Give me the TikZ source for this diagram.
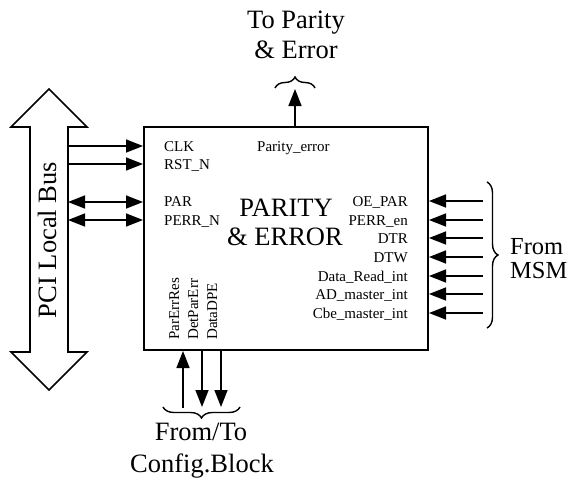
\documentclass[tikz,border=0pt]{standalone}
\usepackage{fontspec}
\setmainfont{Liberation Serif}
\usetikzlibrary{arrows.meta,decorations.pathreplacing}
\tikzset{
  lab/.style={font=\fontsize{15}{17}\selectfont, inner sep=0pt},
  big/.style={font=\fontsize{26.5}{31}\selectfont, inner sep=0pt},
  sig/.style={line width=1.6pt, -{Triangle[length=17pt,width=13pt]}},
  dsig/.style={line width=1.6pt, {Triangle[length=17pt,width=13pt]}-{Triangle[length=17pt,width=13pt]}},
  brc/.style={decorate, decoration={brace, amplitude=11pt}, line width=1.4pt},
  blk/.style={draw, line width=2pt, inner sep=0pt}
}
\begin{document}
\begin{tikzpicture}[x=1pt,y=-1pt]
\useasboundingbox (0,0) rectangle (572,479);
% main block
\node[blk, minimum width=284pt, minimum height=223pt] (box) at (286,238.5) {};
\node[big, anchor=base] (t1) at (286,216) {PARITY};
\node[big, anchor=base] (t2) at (285,245) {\& ERROR};
% PCI local bus double arrow
\draw[line width=1.6pt, line join=miter] (49,89) -- (87,127) -- (68,127) -- (68,352) -- (87,352) -- (49,390)
  -- (11,352) -- (30,352) -- (30,127) -- (11,127) -- cycle;
\node[big, anchor=base, rotate=90] (bus) at (56,240) {PCI Local Bus};
% left signals
\coordinate (clk) at (68,146);
\coordinate (rst) at (68,164);
\coordinate (par) at (68,202);
\coordinate (perr) at (68,220);
\draw[sig] (clk) -- (clk -| box.west);
\draw[sig] (rst) -- (rst -| box.west);
\draw[dsig] (par) -- (par -| box.west);
\draw[dsig] (perr) -- (perr -| box.west);
\node[lab, anchor=base west] (lclk) at (164,151) {CLK};
\node[lab, anchor=base west] (lrst) at (164,169) {RST\_N};
\node[lab, anchor=base west] (lpar) at (164,206) {PAR};
\node[lab, anchor=base west] (lperr) at (164,225) {PERR\_N};
\node[lab, anchor=base west] (lpe) at (257,151) {Parity\_error};
% top output
\coordinate (pe) at (295,89);
\draw[sig] (box.north -| pe) -- (pe);
\draw[brc] (275,88) -- (315,88);
\node[big, anchor=base] (tp1) at (296,28) {To Parity};
\node[big, anchor=base] (tp2) at (296,58) {\& Error};
% right inputs
\coordinate (r1) at (483,201);
\coordinate (r2) at (483,220);
\coordinate (r3) at (483,238);
\coordinate (r4) at (483,257);
\coordinate (r5) at (483,276);
\coordinate (r6) at (483,294);
\coordinate (r7) at (483,313);
\foreach \c in {r1,r2,r3,r4,r5,r6,r7} {\draw[sig] (\c) -- (\c -| box.east);}
\node[lab, anchor=base east] (l1) at (408,206) {OE\_PAR};
\node[lab, anchor=base east] (l2) at (408,225) {PERR\_en};
\node[lab, anchor=base east] (l3) at (408,243) {DTR};
\node[lab, anchor=base east] (l4) at (408,262) {DTW};
\node[lab, anchor=base east] (l5) at (408,281) {Data\_Read\_int};
\node[lab, anchor=base east] (l6) at (408,299) {AD\_master\_int};
\node[lab, anchor=base east] (l7) at (408,318) {Cbe\_master\_int};
\draw[brc] (487,182) -- (487,328);
\node[big, font=\fontsize{24.5}{29}\selectfont, anchor=base west] (fm1) at (510,254) {From};
\node[big, font=\fontsize{24.5}{29}\selectfont, anchor=base west] (fm2) at (510,278) {MSM};
% bottom signals
\node[lab, anchor=base west, rotate=90] (b1) at (179,340) {ParErrRes};
\node[lab, anchor=base west, rotate=90] (b2) at (198,340) {DetParErr};
\node[lab, anchor=base west, rotate=90] (b3) at (217,340) {DataDPE};
\coordinate (c1) at (183,408);
\coordinate (c2) at (202,407);
\coordinate (c3) at (221,407);
\draw[sig] (c1) -- (c1 |- box.south);
\draw[sig] (c2 |- box.south) -- (c2);
\draw[sig] (c3 |- box.south) -- (c3);
\draw[brc] (240,407) -- (163,407);
\node[big, anchor=base] (cf1) at (201,440) {From/To};
\node[big, anchor=base] (cf2) at (202,472) {Config.Block};
\end{tikzpicture}
\end{document}
